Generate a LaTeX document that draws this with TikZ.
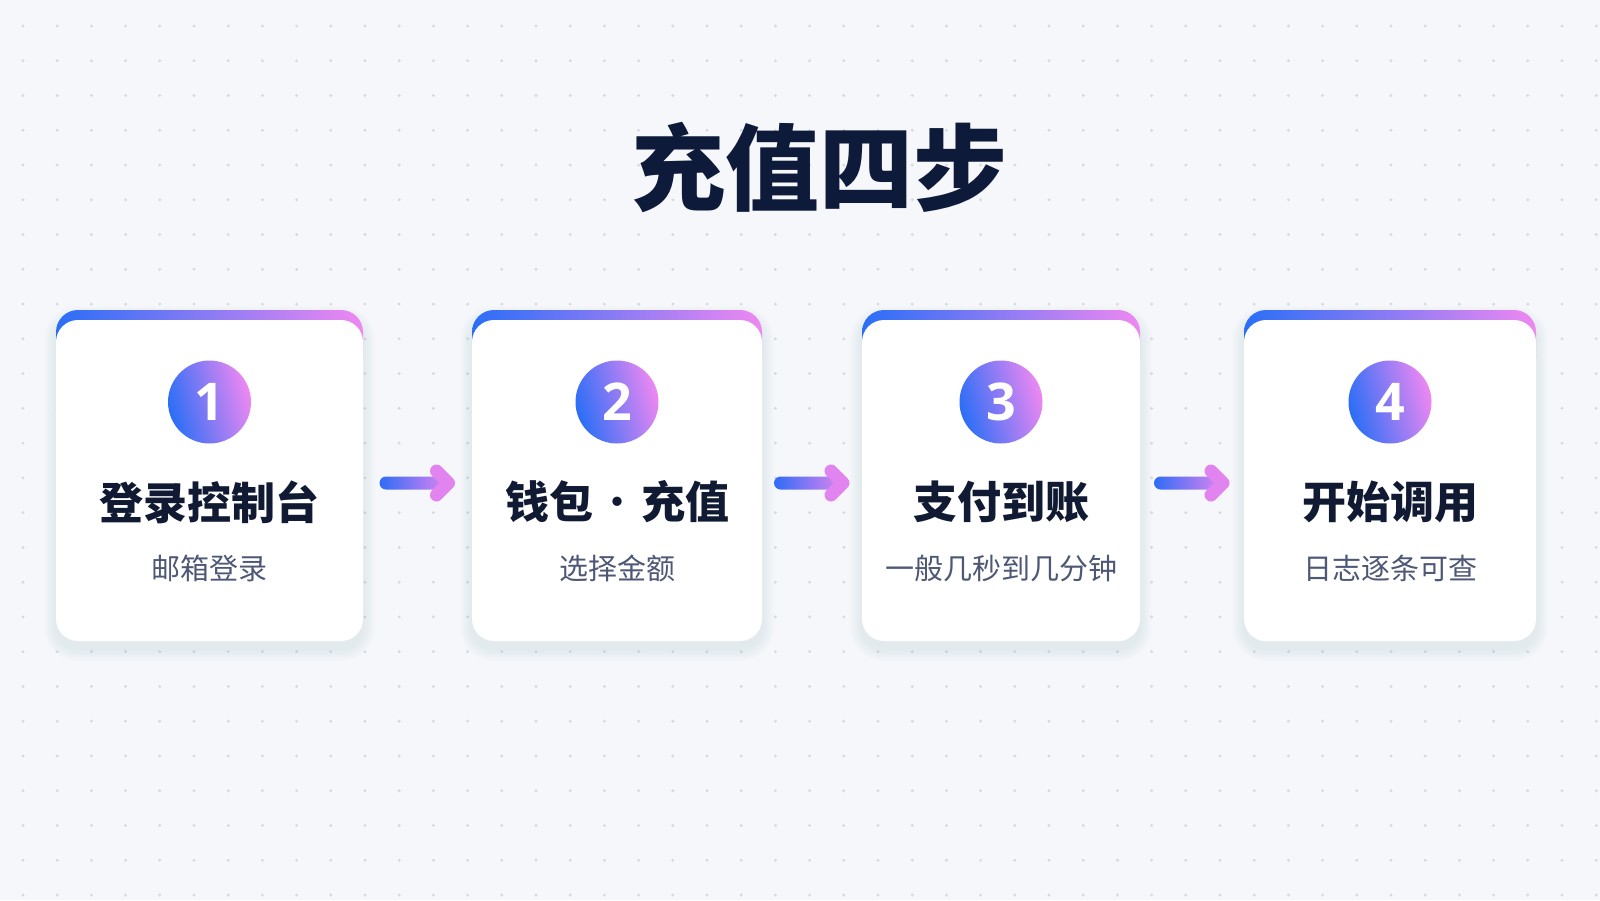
\documentclass[tikz,border=0pt]{standalone}
\usepackage{fontspec}
\newfontfamily\cjk{Noto Sans CJK SC}
\newfontfamily\numfont{Open Sans}
\usetikzlibrary{calc}
\definecolor{bgc}{HTML}{F6F7FA}
\definecolor{dotc}{HTML}{D6D9E2}
\definecolor{navy}{HTML}{0E1A3A}
\definecolor{cardtxt}{HTML}{111A33}
\definecolor{subtxt}{HTML}{4E5876}
\definecolor{gA}{HTML}{2A6EF6}
\definecolor{gB}{HTML}{EE88F2}
\definecolor{aA}{HTML}{2F6CF6}
\definecolor{aB}{HTML}{E284F0}
\definecolor{shadowc}{HTML}{6A76A0}
\tikzset{
  cardbody/.style={rectangle, fill=white, rounded corners=22pt, minimum height=321pt, inner sep=0pt},
  numcirc/.style={circle, minimum size=83pt, inner sep=0pt, left color=gA, right color=gB, shading angle=105, text=white, font=\numfont\bfseries\fontsize{52}{58}\selectfont},
  steptitle/.style={text=cardtxt, font=\cjk\bfseries\fontsize{44}{50}\selectfont, inner sep=0pt},
  stepsub/.style={text=subtxt, font=\cjk\fontsize{29}{34}\selectfont, inner sep=0pt},
  maintitle/.style={text=navy, font=\cjk\bfseries\fontsize{94}{100}\selectfont, inner sep=0pt},
}
\newcommand\stepcard[6]{%
  \foreach \k in {1,...,12}{
    \fill[shadowc, opacity=0.009, rounded corners={(22+\k)*1pt}] ({#2-#3/2-\k},{310-\k+8}) rectangle ({#2+#3/2+\k},{641+\k+8});
  }
  \shade[left color=gA, right color=gB, rounded corners=22pt] ({#2-#3/2},310) rectangle ({#2+#3/2},380);
  \node[cardbody, minimum width=#3pt] (#1) at (#2,480.5) {};
  \node[numcirc] (#1n) at (#2,402) {#4};
  \node[steptitle] (#1t) at (#2,502) {#5};
  \node[stepsub] (#1s) at (#2,568) {#6};
}
\newcommand\steparrow[2]{%
  \coordinate (#1#2m) at ($(#1.east)!0.5!(#2.west)+(0,2.5)$);
  \shade[left color=aA, right color=aB, rounded corners=6.5pt] ($(#1#2m)+(-38,-6.5)$) rectangle ($(#1#2m)+(31,6.5)$);
  \draw[aB, line width=13pt, line cap=round, line join=round] ($(#1#2m)+(19,-12)$) -- ($(#1#2m)+(31,0)$) -- ($(#1#2m)+(19,12)$);
}
\begin{document}
\begin{tikzpicture}[x=1pt, y=-1pt]
\useasboundingbox (0,0) rectangle (1600,900);
\fill[bgc] (0,0) rectangle (1600,900);
\foreach \i in {0,...,46}{
  \foreach \j in {0,...,25}{
    \fill[dotc] ({23+\i*34.2},{26+\j*34.76}) circle[radius=1.6pt];
  }
}
\node[maintitle] (title) at (819,167) {充值四步};
\stepcard{c1}{209.5}{307}{1}{登录控制台}{邮箱登录}
\stepcard{c2}{617}{290}{2}{钱包\hspace{2pt}{\mdseries·}\hspace{2pt}充值}{选择金额}
\stepcard{c3}{1001}{278}{3}{支付到账}{一般几秒到几分钟}
\stepcard{c4}{1390}{292}{4}{开始调用}{日志逐条可查}
\steparrow{c1}{c2}
\steparrow{c2}{c3}
\steparrow{c3}{c4}
\end{tikzpicture}
\end{document}
